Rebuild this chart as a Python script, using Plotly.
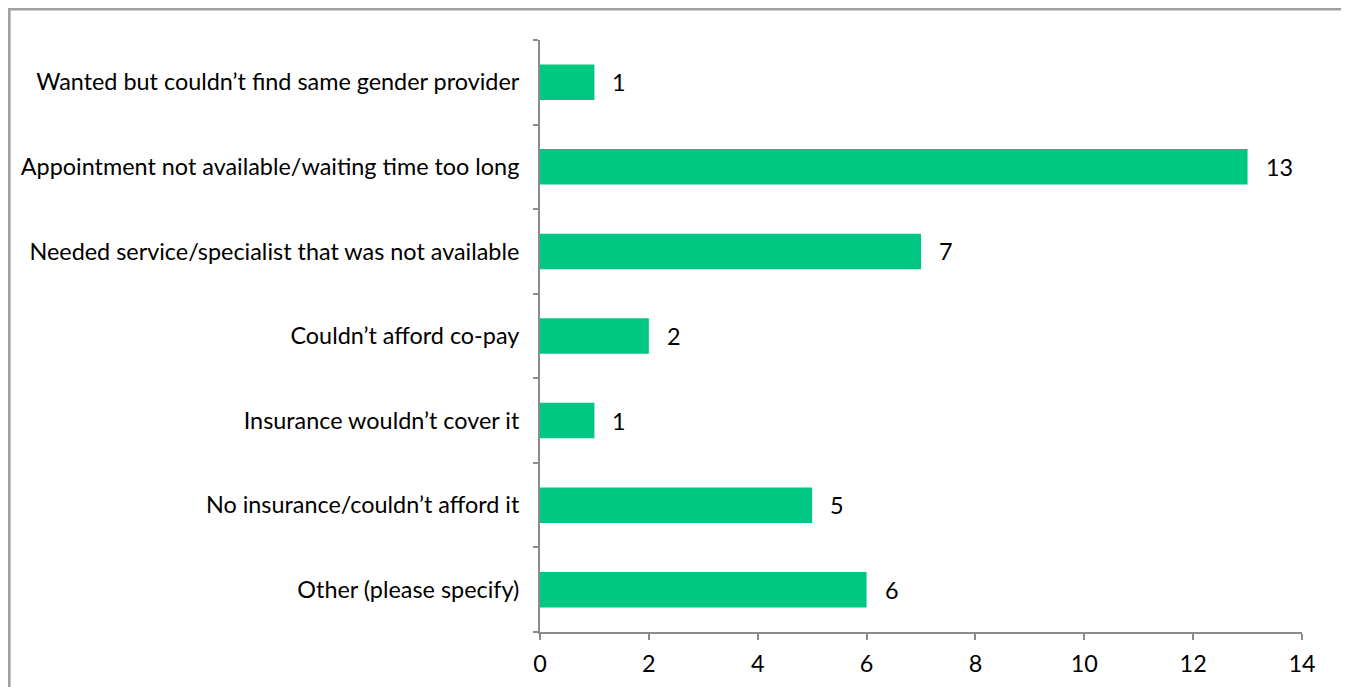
import plotly.graph_objects as go

categories = [
    "Wanted but couldn’t find same gender provider",
    "Appointment not available/waiting time too long",
    "Needed service/specialist that was not available",
    "Couldn’t afford co-pay",
    "Insurance wouldn’t cover it",
    "No insurance/couldn’t afford it",
    "Other (please specify)",
]
values = [1, 13, 7, 2, 1, 5, 6]
x_ticks = [0, 2, 4, 6, 8, 10, 12, 14]

FONT = "Lato"
FS = 23.4
BAR = "#00C882"
AX = "#8C8C8C"

L, R, T, B = 532, 1294, 32, 624
W, H = 1349, 687
PW, PH = R - L, B - T

fig = go.Figure()
fig.add_trace(go.Bar(
    x=values, y=categories, orientation="h",
    marker=dict(color=BAR, line=dict(width=0)),
    width=0.42, hoverinfo="x+y",
))
for c, v in zip(categories, values):
    fig.add_annotation(x=v, y=c, text=str(v), showarrow=False,
                       xanchor="left", xshift=16,
                       font=dict(family=FONT, size=FS, color="black"))

fig.update_layout(
    width=W, height=H,
    margin=dict(l=L, r=W - R, t=T, b=H - B),
    paper_bgcolor="white", plot_bgcolor="white",
    showlegend=False,
    font=dict(family=FONT, size=FS, color="black"),
    xaxis=dict(range=[0, 14], tickvals=x_ticks, ticktext=[str(t) for t in x_ticks],
               showgrid=False, zeroline=False, showline=True, linecolor=AX, linewidth=2,
               ticks="outside", ticklen=6, tickcolor=AX, tickwidth=2,
               ticklabelstandoff=4,
               tickfont=dict(family=FONT, size=FS, color="black"), fixedrange=True),
    yaxis=dict(categoryorder="array", categoryarray=categories[::-1],
               range=[-0.5, 6.5], showgrid=False, zeroline=False,
               showline=True, linecolor=AX, linewidth=2,
               ticks="outside", tickson="boundaries", ticklen=5, tickcolor=AX, tickwidth=2,
               ticklabelstandoff=14,
               tickfont=dict(family=FONT, size=FS, color="black"), fixedrange=True),
    shapes=[dict(type="rect", xref="paper", yref="paper",
                 x0=(1.3 - L) / PW, x1=(1339 - L) / PW,
                 y0=(B - 720) / PH, y1=(B - 1.3) / PH,
                 line=dict(color="#A0A0A0", width=2.6), fillcolor="rgba(0,0,0,0)", layer="below")],
)
fig.write_html("out.html")
